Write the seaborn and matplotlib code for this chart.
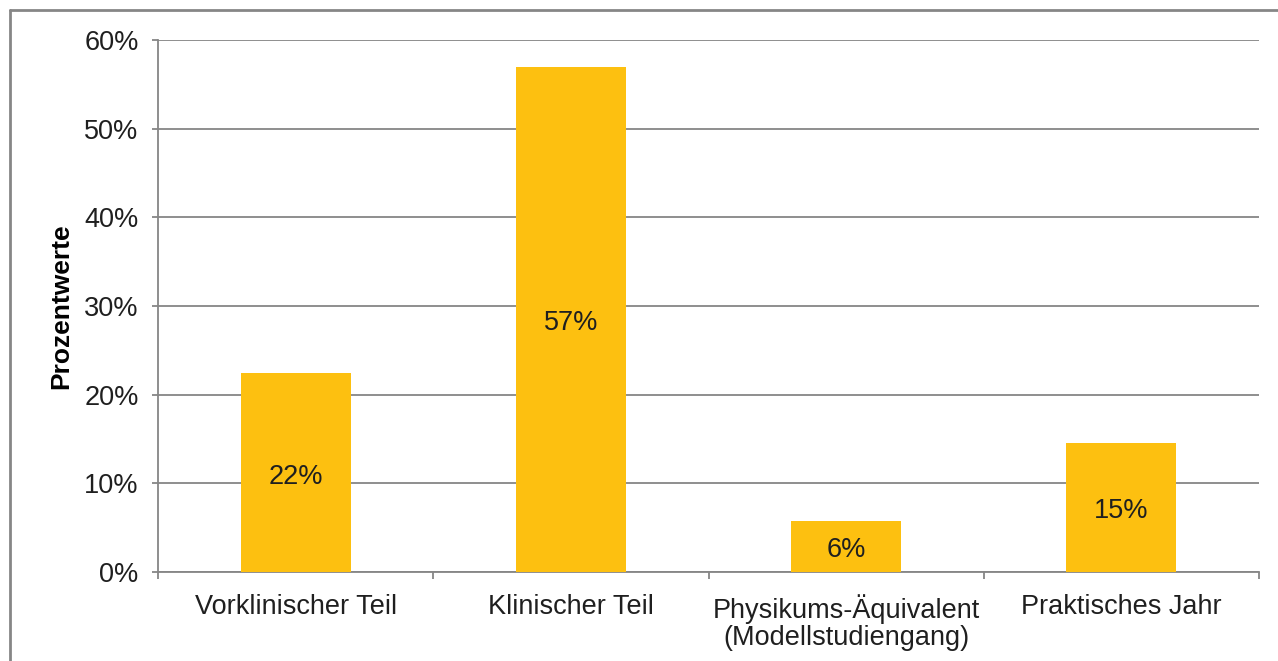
import matplotlib
matplotlib.use("Agg")
import matplotlib.pyplot as plt
import seaborn as sns
import pandas as pd
import numpy as np
from matplotlib.ticker import FixedLocator, PercentFormatter
from matplotlib.lines import Line2D

categories = ["Vorklinischer Teil", "Klinischer Teil", "Physikums-Äquivalent\n(Modellstudiengang)", "Praktisches Jahr"]
values = [22.4, 57.0, 5.8, 14.6]
labels = ["22%", "57%", "6%", "15%"]
yticks = [0, 10, 20, 30, 40, 50, 60]

sns.set_theme(style="white")
plt.rcParams['font.family'] = ['Liberation Sans', 'DejaVu Sans']

df = pd.DataFrame({"cat": categories, "val": values})

fig = plt.figure(figsize=(12.78, 6.61), dpi=100)
ax = fig.add_axes([158/1278, 1-572/661, (1259-158)/1278, (572-40)/661])

gray = "#868686"
txt = "#1f1f1f"
fs = 19.5
sns.barplot(data=df, x="cat", y="val", color="#FDC010", saturation=1, width=0.4, ax=ax, zorder=3)
for p in ax.patches:
    p.set_edgecolor("none")

anns = ax.bar_label(ax.containers[0], labels=labels, label_type="center", fontsize=fs, color=txt)
for a in anns:
    a.xyann = (0, -3)

ax.set_ylim(0, 60)
ax.set_xlim(-0.5, 3.5)
ax.set_yticks(yticks)
ax.yaxis.set_major_formatter(PercentFormatter(decimals=0))
ax.yaxis.grid(True, color=gray, linewidth=1.3, zorder=0)
ax.set_axisbelow(True)

ax.set_xlabel("")
ax.set_ylabel("Prozentwerte", fontsize=19, fontweight="bold", color="#000000", labelpad=8)

for s in ["top", "right"]:
    ax.spines[s].set_visible(False)
for s in ["left", "bottom"]:
    ax.spines[s].set_color(gray)
    ax.spines[s].set_linewidth(1.3)

ax.tick_params(axis="y", which="major", length=4, width=1.3, color=gray, labelsize=fs, labelcolor=txt, left=True, pad=10)
ax.tick_params(axis="x", which="major", length=0, labelsize=fs, labelcolor=txt, pad=16)
ax.xaxis.set_minor_locator(FixedLocator([-0.5, 0.5, 1.5, 2.5, 3.5]))
ax.tick_params(axis="x", which="minor", length=5, width=1.3, color=gray, bottom=True)
for t in ax.get_xticklabels():
    t.set_linespacing(1.05)

# outer frame (top and left only)
fig.lines.append(Line2D([10/1278, 10/1278], [-0.05, 1-10/661], transform=fig.transFigure, color=gray, linewidth=2))
fig.lines.append(Line2D([10/1278, 1.05], [1-10/661, 1-10/661], transform=fig.transFigure, color=gray, linewidth=2))

fig.savefig("out.png", dpi=100)
